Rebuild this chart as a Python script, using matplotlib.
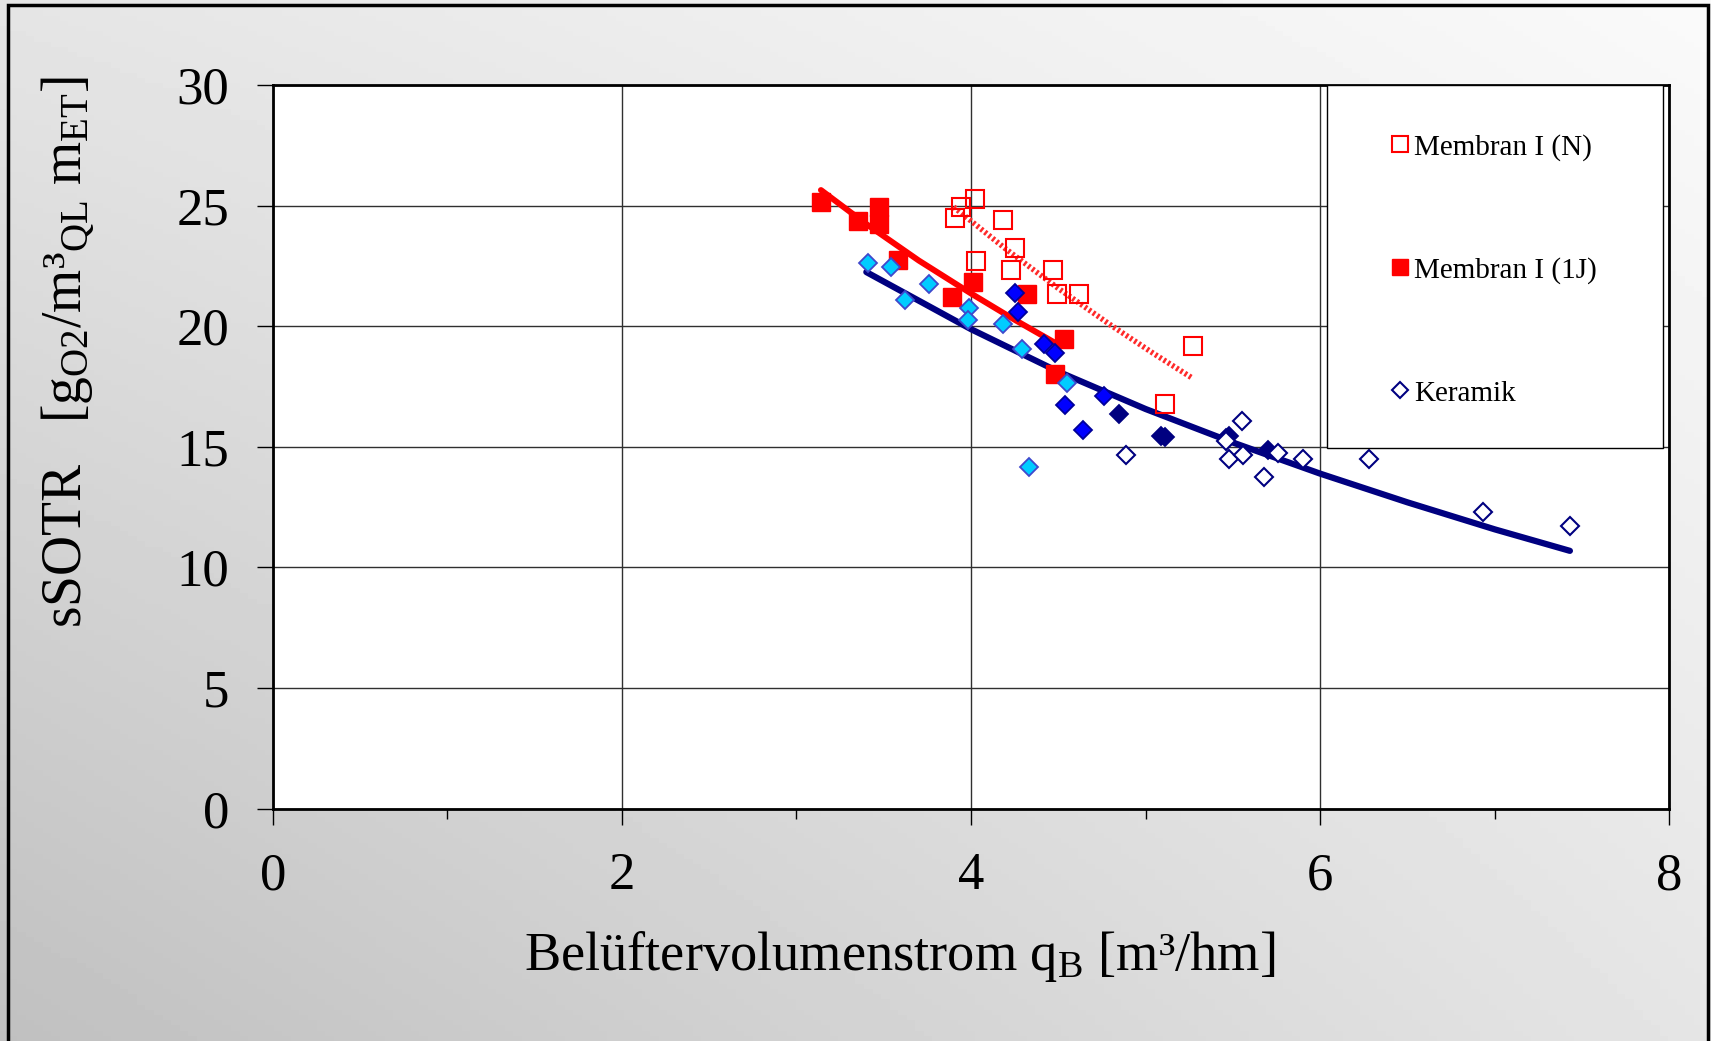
import numpy as np
import matplotlib
matplotlib.use('Agg')
import matplotlib.pyplot as plt
from matplotlib.lines import Line2D
from matplotlib.patches import Rectangle

plt.rcParams['font.family'] = ['Liberation Serif', 'DejaVu Serif']
plt.rcParams['mathtext.fontset'] = 'custom'
plt.rcParams['mathtext.rm'] = 'Liberation Serif'
plt.rcParams['mathtext.it'] = 'Liberation Serif:italic'
plt.rcParams['mathtext.bf'] = 'Liberation Serif:bold'

# Membran I (N) - offene Quadrate
mem_n_x = [3.91, 3.94, 4.02, 4.18, 4.25, 4.03, 4.23, 4.47, 4.49, 4.62, 5.27, 5.11]
mem_n_y = [24.50, 24.95, 25.27, 24.42, 23.24, 22.72, 22.34, 22.32, 21.36, 21.36, 19.18, 16.76]

# Membran I (1J) - gefuellte Quadrate
mem_j_x = [3.14, 3.35, 3.47, 3.47, 3.58, 3.89, 4.01, 4.32, 4.53, 4.48]
mem_j_y = [25.16, 24.37, 24.95, 24.26, 22.77, 21.21, 21.85, 21.32, 19.46, 18.02]

# Keramik - verschiedene Messreihen
ker_cyan_x = [3.41, 3.54, 3.62, 3.76, 3.99, 3.98, 4.18, 4.29, 4.55, 4.33]
ker_cyan_y = [22.61, 22.44, 21.09, 21.75, 20.74, 20.26, 20.08, 19.04, 17.66, 14.15]

ker_blue_x = [4.25, 4.27, 4.42, 4.48, 4.54, 4.64, 4.76]
ker_blue_y = [21.40, 20.58, 19.25, 18.90, 16.72, 15.70, 17.11]

ker_navy_x = [4.85, 5.09, 5.11, 5.48, 5.46, 5.70]
ker_navy_y = [16.36, 15.45, 15.40, 15.46, 15.38, 14.87]

ker_open_x = [4.89, 5.55, 5.48, 5.56, 5.68, 5.76, 5.90, 6.28, 6.93, 7.43, 5.46]
ker_open_y = [14.66, 16.08, 14.48, 14.66, 13.76, 14.76, 14.49, 14.48, 12.28, 11.73, 15.25]

# Trendlinien
trend_n_x = [3.90, 4.20, 4.50, 4.80, 5.05, 5.27]
trend_n_y = [24.95, 23.20, 21.57, 20.05, 18.85, 17.84]

trend_j_x = [3.14, 3.40, 3.70, 4.00, 4.25, 4.48]
trend_j_y = [25.65, 24.24, 22.73, 21.36, 20.27, 19.32]

trend_k_x = [3.40, 4.00, 4.50, 5.00, 5.50, 6.00, 6.50, 7.00, 7.43]
trend_k_y = [22.25, 19.88, 18.12, 16.57, 15.18, 13.89, 12.70, 11.58, 10.69]

labels = ['Membran I (N)', 'Membran I (1J)', 'Keramik']

fig = plt.figure(figsize=(17.11, 10.41), dpi=100)

# grauer Verlauf als Hintergrund
bg = fig.add_axes([0, 0, 1, 1], zorder=-10)
gx = np.linspace(0, 1, 200)
gy = np.linspace(0, 1, 200)
GX, GY = np.meshgrid(gx, gy)
tl, tr, bl, br = 229, 250, 192, 229
grad = (bl * (1 - GX) * (1 - GY) + br * GX * (1 - GY) + tl * (1 - GX) * GY + tr * GX * GY) / 255
bg.imshow(grad, cmap='gray', vmin=0, vmax=1, origin='lower', extent=[0, 1, 0, 1], aspect='auto')
bg.set_axis_off()
fig.patches.append(Rectangle((8 / 1711, -0.01), 1700 / 1711, 1.01 - 5 / 1041, transform=fig.transFigure,
                             fill=False, edgecolor='black', linewidth=2.5))

ax = fig.add_axes([0.1594, 0.2232, 0.8163, 0.6950])
ax.set_facecolor('white')

ax.plot(trend_n_x, trend_n_y, color='#ff2a2a', lw=4.0, ls=(0, (0.45, 0.45)), zorder=4)
ax.plot(trend_j_x, trend_j_y, color='red', lw=4.3, zorder=4, solid_capstyle='round')
ax.plot(trend_k_x, trend_k_y, color='#000080', lw=4.5, zorder=4, solid_capstyle='round')

ax.plot(mem_n_x, mem_n_y, ls='', marker='s', ms=12.5, mfc='none', mec='red', mew=1.5, zorder=5)
ax.plot(mem_j_x, mem_j_y, ls='', marker='s', ms=12.5, mfc='red', mec='red', mew=1, zorder=5)
ax.plot(ker_cyan_x, ker_cyan_y, ls='', marker='D', ms=9, mfc='#00ccff', mec='#3f48cc', mew=1.3, zorder=5)
ax.plot(ker_blue_x, ker_blue_y, ls='', marker='D', ms=9, mfc='#0000ff', mec='#000099', mew=1.3, zorder=5)
ax.plot(ker_navy_x, ker_navy_y, ls='', marker='D', ms=9, mfc='#000080', mec='#000080', mew=1.3, zorder=5)
ax.plot(ker_open_x, ker_open_y, ls='', marker='D', ms=9, mfc='white', mec='#000080', mew=1.5, zorder=5)

ax.set_xlim(0, 8)
ax.set_ylim(0, 30)
ax.set_xticks([0, 2, 4, 6, 8])
ax.set_xticks([1, 3, 5, 7], minor=True)
ax.set_yticks(np.arange(0, 31, 5))
ax.grid(True, which='major', color='#303030', lw=1.0, zorder=1)
ax.set_axisbelow(True)
ax.tick_params(axis='both', which='major', direction='out', length=11.5, width=1.0,
               labelsize=38, pad=20, color='black')
ax.tick_params(axis='x', which='minor', direction='out', length=7.5, width=1.0)
for s in ax.spines.values():
    s.set_linewidth(2.0)
    s.set_color('black')

# Legende in weissem Kasten
ax.add_patch(Rectangle((0.755, 0.4984), 0.2405, 0.5016, transform=ax.transAxes,
                       facecolor='white', edgecolor='black', lw=1.0, zorder=6))
handles = [
    Line2D([], [], ls='', marker='s', ms=11, mfc='white', mec='red', mew=1.5),
    Line2D([], [], ls='', marker='s', ms=11, mfc='red', mec='red'),
    Line2D([], [], ls='', marker='D', ms=8, mfc='white', mec='#000080', mew=1.5),
]
leg = ax.legend(handles, labels, loc='upper left', bbox_to_anchor=(0.788, 0.953), frameon=False,
                fontsize=21, handlelength=0.8, handletextpad=0.1, labelspacing=3.3, borderpad=0)
leg.set_zorder(7)

fig.text(0.040, 0.662, r'sSOTR   [g$_{\rm O2}$/m³$_{\rm QL}$ m$_{\rm ET}$]', rotation=90,
         ha='center', va='center', fontsize=40)
fig.text(0.526, 0.081, r'Belüftervolumenstrom q$_{\rm B}$ [m³/hm]', ha='center', va='center', fontsize=39.2)

fig.savefig('out.png', dpi=100)
